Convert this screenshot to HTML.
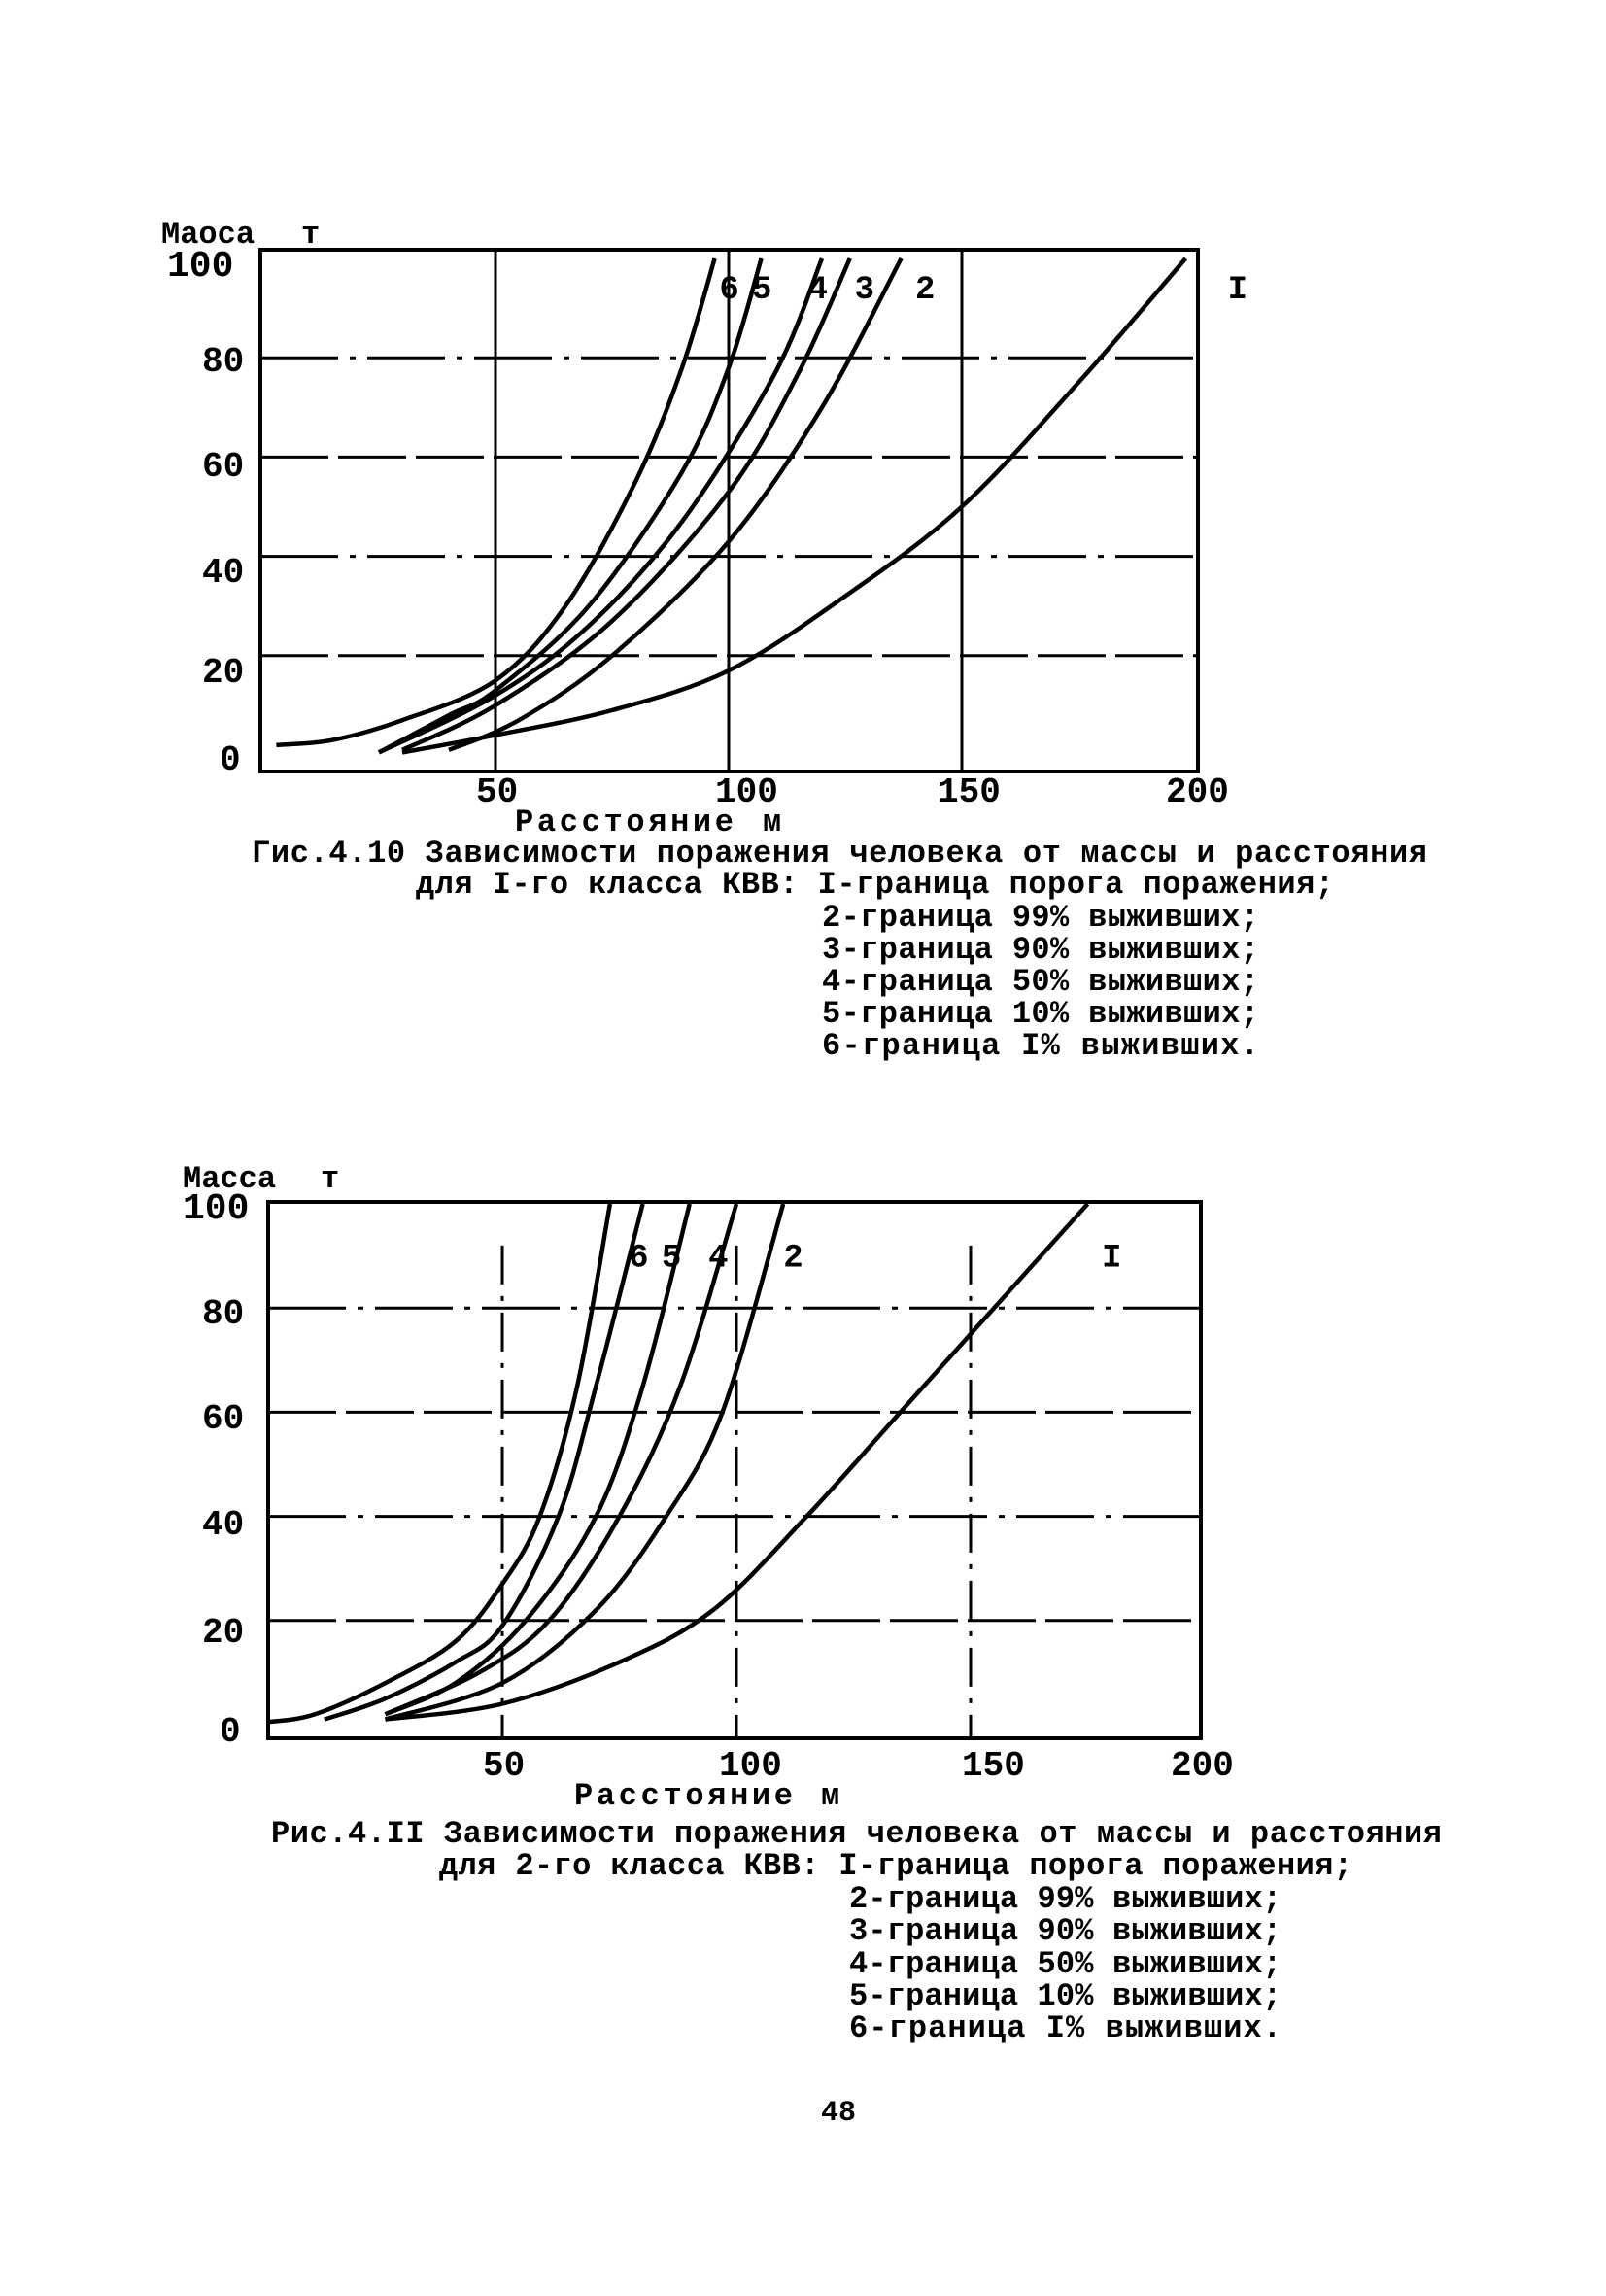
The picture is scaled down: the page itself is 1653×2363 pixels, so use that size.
<!DOCTYPE html>
<html><head><meta charset="utf-8"><style>
html,body{margin:0;padding:0;background:#fff}
svg{display:block}
text{font-family:"Liberation Mono","DejaVu Sans Mono",monospace;fill:#000;font-weight:bold}
</style></head><body>
<svg id="s" width="1653" height="2363" viewBox="0 0 1653 2363" xmlns="http://www.w3.org/2000/svg">
<g id="c1" stroke="#000" fill="none" stroke-width="3"></g>
<g id="c2" stroke="#000" fill="none" stroke-width="3"></g>
<g font-size="32">
<text x="166" y="250">Маоса</text><text x="310" y="250">т</text>
<text x="172" y="284" font-size="38" font-weight="normal">100</text>
<text x="208" y="382" font-size="36" font-weight="normal">80</text>
<text x="208" y="490" font-size="36" font-weight="normal">60</text>
<text x="208" y="599" font-size="36" font-weight="normal">40</text>
<text x="208" y="702" font-size="36" font-weight="normal">20</text>
<text x="226" y="792" font-size="36" font-weight="normal">0</text>
<text x="490" y="825" font-size="36" font-weight="normal">50</text>
<text x="736" y="825" font-size="36" font-weight="normal">100</text>
<text x="965" y="825" font-size="36" font-weight="normal">150</text>
<text x="1200" y="825" font-size="36" font-weight="normal">200</text>
<text x="530" y="855" textLength="225">Расстояние</text><text x="785" y="855">м</text>
<text x="259" y="887" textLength="1210">Гис.4.10 Зависимости поражения человека от массы и расстояния</text>
<text x="428" y="919" textLength="945">для I-го класса КВВ: I-граница порога поражения;</text>
<text x="846" y="953" textLength="450">2-граница 99% выживших;</text>
<text x="846" y="986" textLength="450">3-граница 90% выживших;</text>
<text x="846" y="1019" textLength="450">4-граница 50% выживших;</text>
<text x="846" y="1052" textLength="450">5-граница 10% выживших;</text>
<text x="846" y="1085" textLength="450">6-граница I%  выживших.</text>

<text x="188" y="1222">Масса</text><text x="330" y="1222">т</text>
<text x="188" y="1254" font-size="38" font-weight="normal">100</text>
<text x="208" y="1362" font-size="36" font-weight="normal">80</text>
<text x="208" y="1470" font-size="36" font-weight="normal">60</text>
<text x="208" y="1579" font-size="36" font-weight="normal">40</text>
<text x="208" y="1690" font-size="36" font-weight="normal">20</text>
<text x="226" y="1792" font-size="36" font-weight="normal">0</text>
<text x="497" y="1827" font-size="36" font-weight="normal">50</text>
<text x="740" y="1827" font-size="36" font-weight="normal">100</text>
<text x="990" y="1827" font-size="36" font-weight="normal">150</text>
<text x="1205" y="1827" font-size="36" font-weight="normal">200</text>
<text x="591" y="1857" textLength="225">Расстояние</text><text x="845" y="1857">м</text>
<text x="279" y="1896" textLength="1205">Рис.4.II Зависимости поражения человека от массы и расстояния</text>
<text x="452" y="1929" textLength="940">для 2-го класса КВВ: I-граница порога поражения;</text>
<text x="874" y="1963" textLength="445">2-граница 99% выживших;</text>
<text x="874" y="1996" textLength="445">3-граница 90% выживших;</text>
<text x="874" y="2030" textLength="445">4-граница 50% выживших;</text>
<text x="874" y="2063" textLength="445">5-граница 10% выживших;</text>
<text x="874" y="2096" textLength="445">6-граница I%  выживших.</text>
<text x="845" y="2182" font-size="30" font-family="Liberation Serif">48</text>
</g>
</svg>
<script>
function smooth(pts){
 let d="M"+pts[0][0].toFixed(1)+" "+pts[0][1].toFixed(1);
 for(let i=0;i<pts.length-1;i++){
  const p0=pts[i-1]||pts[i],p1=pts[i],p2=pts[i+1],p3=pts[i+2]||p2;
  const c1=[p1[0]+(p2[0]-p0[0])/6,p1[1]+(p2[1]-p0[1])/6];
  const c2=[p2[0]-(p3[0]-p1[0])/6,p2[1]-(p3[1]-p1[1])/6];
  d+=" C"+c1.join(" ")+" "+c2.join(" ")+" "+p2.join(" ");
 }
 return d;
}
function chart(gid,X0,XS,Y0,YS,box,grid,vdash,curves,labels){
 const g=document.getElementById(gid);let h="";
 const X=v=>X0+v*XS,Y=v=>Y0-v*YS;
 h+=`<rect x="${box[0]}" y="${box[1]}" width="${box[2]-box[0]}" height="${box[3]-box[1]}" stroke-width="4"/>`;
 grid.forEach(v=>{h+=`<line x1="${box[0]}" x2="${box[2]}" y1="${Y(v)}" y2="${Y(v)}" stroke-width="3" stroke-dasharray="${v%40==20?'70 10':'80 12 6 12'}"/>`});
 [50,100,150].forEach(v=>{h+=`<line x1="${X(v)}" x2="${X(v)}" y1="${vdash?Y(92):box[1]}" y2="${box[3]}" stroke-width="3" ${vdash?'stroke-dasharray="40 12 5 12"':''}/>`});
 curves.forEach(c=>{h+=`<path d="${smooth(c.map(p=>[X(p[0]),Y(p[1])]))}" stroke-width="4.5"/>`});
 labels.forEach(l=>{h+=`<text x="${X(l[0])}" y="${Y(l[1])}" font-size="34" stroke="none" font-weight="normal">${l[2]}</text>`});
 g.innerHTML=h;
}
chart("c1",270,4.8,777,5.11,[268,257,1233,794],[80,60,40,20],false,[
 [[3,2],[15,3],[30,7],[50,15],[65,30],[80,55],[90,78],[97,100]],
 [[25,0.5],[40,8],[50,13],[70,30],[90,57],[100,78],[107,100]],
 [[25,0.5],[50,12],[70,26],[90,47],[110,77],[120,100]],
 [[30,1],[50,10],[75,27],[100,53],[115,77],[126,100]],
 [[40,1],[55,7],[75,20],[100,43],[120,70],[137,100]],
 [[30,0.5],[50,4],[75,9],[100,17],[125,32],[150,50],[175,75],[198,100]]
],[[98,92,"6"],[105,92,"5"],[117,92,"4"],[127,92,"3"],[140,92,"2"],[207,92,"I"]]);
chart("c2",276,4.82,1775,5.36,[276,1237,1236,1789],[80,60,40,20],true,[
 [[0,0.5],[10,2],[25,8],[40,16],[50,27],[58,40],[66,65],[73,100]],
 [[12,1],[25,5],[40,12],[50,19],[62,40],[70,65],[80,100]],
 [[25,2],[40,8],[55,20],[70,40],[80,65],[90,100]],
 [[25,2],[45,10],[60,20],[75,40],[88,65],[100,100]],
 [[25,1],[50,8],[70,22],[85,40],[97,60],[110,100]],
 [[25,1],[50,4],[75,12],[95,22],[115,40],[135,60],[155,80],[175,100]]
],[[77,88,"6"],[84,88,"5"],[94,88,"4"],[110,88,"2"],[178,88,"I"]]);
</script>
</body></html>
